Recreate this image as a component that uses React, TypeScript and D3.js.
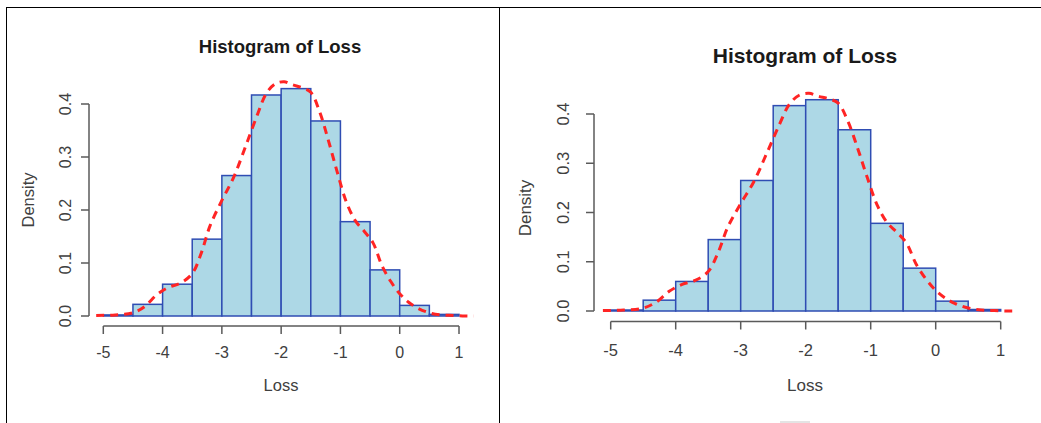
import React from "react";
import * as d3 from "d3";

// Histogram bins (left edge), width 0.5
const binStarts = [-5, -4.5, -4, -3.5, -3, -2.5, -2, -1.5, -1, -0.5, 0, 0.5];
const binWidth = 0.5;
const densities = [0.002, 0.022, 0.06, 0.145, 0.265, 0.417, 0.429, 0.368, 0.178, 0.087, 0.02, 0.003];

// Kernel density curve
const curveX = [-5.12, -4.8, -4.5, -4.3, -4.1, -3.9, -3.7, -3.5, -3.35, -3.2, -3.0, -2.8, -2.6, -2.4, -2.25, -2.1, -1.95, -1.8, -1.65, -1.5, -1.35, -1.2, -1.05, -0.9, -0.75, -0.6, -0.45, -0.3, -0.15, 0.0, 0.15, 0.3, 0.5, 0.7, 0.9, 1.1, 1.25];
const curveY = [0.001, 0.002, 0.006, 0.018, 0.04, 0.054, 0.062, 0.08, 0.118, 0.17, 0.218, 0.262, 0.32, 0.38, 0.42, 0.438, 0.442, 0.436, 0.431, 0.422, 0.385, 0.33, 0.27, 0.215, 0.18, 0.16, 0.138, 0.095, 0.065, 0.042, 0.026, 0.015, 0.006, 0.002, 0.001, 0.0, 0.0];

const xTicks = [-5, -4, -3, -2, -1, 0, 1];
const yTicks = [0, 0.1, 0.2, 0.3, 0.4];

const titleText = "Histogram of Loss";
const xLabel = "Loss";
const yLabel = "Density";

type PanelProps = {
  x0: number; x1: number;
  y0: number; y4: number;
  axisY: number; tickLabelY: number; xLabelY: number;
  yAxisX: number; yTickLabelX: number; yLabelX: number; yLabelY: number;
  titleX: number; titleY: number; titleSize: number; labelSize: number;
  xLabelX: number; clipRight: number; id: string;
};

function Panel(p: PanelProps) {
  const x = d3.scaleLinear().domain([-5, 1]).range([p.x0, p.x1]);
  const y = d3.scaleLinear().domain([0, 0.4]).range([p.y0, p.y4]);
  const pts = curveX.map((v, i) => [v, curveY[i]] as [number, number]);
  const line = d3.line<[number, number]>()
    .x(d => x(d[0]))
    .y(d => y(d[1]))
    .curve(d3.curveCatmullRom.alpha(0.5));
  const textCol = "#404040";
  const axisCol = "#5a5a5a";
  const font = "'Liberation Sans', Arial, sans-serif";
  return (
    <g fontFamily={font}>
      <defs>
        <clipPath id={p.id}>
          <rect x={0} y={0} width={p.clipRight} height={423} />
        </clipPath>
      </defs>
      <text x={p.titleX} y={p.titleY} textAnchor="middle" fontWeight="bold" fontSize={p.titleSize} fill="#1a1a1a">{titleText}</text>
      {binStarts.map((b, i) => (
        <rect key={i} x={x(b)} y={y(densities[i])} width={x(b + binWidth) - x(b)} height={y(0) - y(densities[i])}
          fill="#add8e6" stroke="#2f4db3" strokeWidth={1.5} />
      ))}
      <path d={line(pts) || ""} fill="none" stroke="#ff2424" strokeWidth={3} strokeDasharray="8,6" clipPath={`url(#${p.id})`} />
      <line x1={x(-5)} x2={x(1)} y1={p.axisY} y2={p.axisY} stroke={axisCol} strokeWidth={1.5} />
      {xTicks.map(t => (
        <g key={t}>
          <line x1={x(t)} x2={x(t)} y1={p.axisY} y2={p.axisY + 8} stroke={axisCol} strokeWidth={1.5} />
          <text x={x(t)} y={p.tickLabelY} textAnchor="middle" fontSize={p.labelSize} fill={textCol}>{t}</text>
        </g>
      ))}
      <text x={p.xLabelX} y={p.xLabelY} textAnchor="middle" fontSize={p.labelSize + 0.5} fill={textCol}>{xLabel}</text>
      <line x1={p.yAxisX} x2={p.yAxisX} y1={y(0)} y2={y(0.4)} stroke={axisCol} strokeWidth={1.5} />
      {yTicks.map(t => (
        <g key={t}>
          <line x1={p.yAxisX - 8} x2={p.yAxisX} y1={y(t)} y2={y(t)} stroke={axisCol} strokeWidth={1.5} />
          <text transform={`translate(${p.yTickLabelX},${y(t)}) rotate(-90)`} textAnchor="middle" fontSize={p.labelSize} fill={textCol}>{t.toFixed(1)}</text>
        </g>
      ))}
      <text transform={`translate(${p.yLabelX},${p.yLabelY}) rotate(-90)`} textAnchor="middle" fontSize={p.labelSize + 0.5} fill={textCol}>{yLabel}</text>
    </g>
  );
}

export default function App() {
  return (
    <svg width={1041} height={423} style={{ position: "absolute", left: 0, top: 0, background: "#fff" }}>
      <rect x={0} y={0} width={1041} height={423} fill="#fff" />
      <line x1={6} x2={1041} y1={7.5} y2={7.5} stroke="#000" strokeWidth={1} />
      <line x1={6.5} x2={6.5} y1={7} y2={423} stroke="#000" strokeWidth={1} />
      <line x1={499.5} x2={499.5} y1={7} y2={423} stroke="#000" strokeWidth={1} />
      <Panel id="clipL" x0={103.3} x1={459} y0={316} y4={104} axisY={326} tickLabelY={358} xLabelY={391}
        yAxisX={89} yTickLabelX={71} yLabelX={34} yLabelY={200} titleX={280} titleY={53} titleSize={18.5}
        labelSize={16} xLabelX={281} clipRight={474} />
      <Panel id="clipR" x0={610.7} x1={1000.7} y0={311} y4={114} axisY={321.5} tickLabelY={356} xLabelY={391}
        yAxisX={594} yTickLabelX={569} yLabelX={531} yLabelY={208} titleX={805} titleY={63} titleSize={21}
        labelSize={16.5} xLabelX={805} clipRight={1041} />
      <rect x={780} y={421} width={30} height={2} fill="#e4e4e4" />
    </svg>
  );
}
